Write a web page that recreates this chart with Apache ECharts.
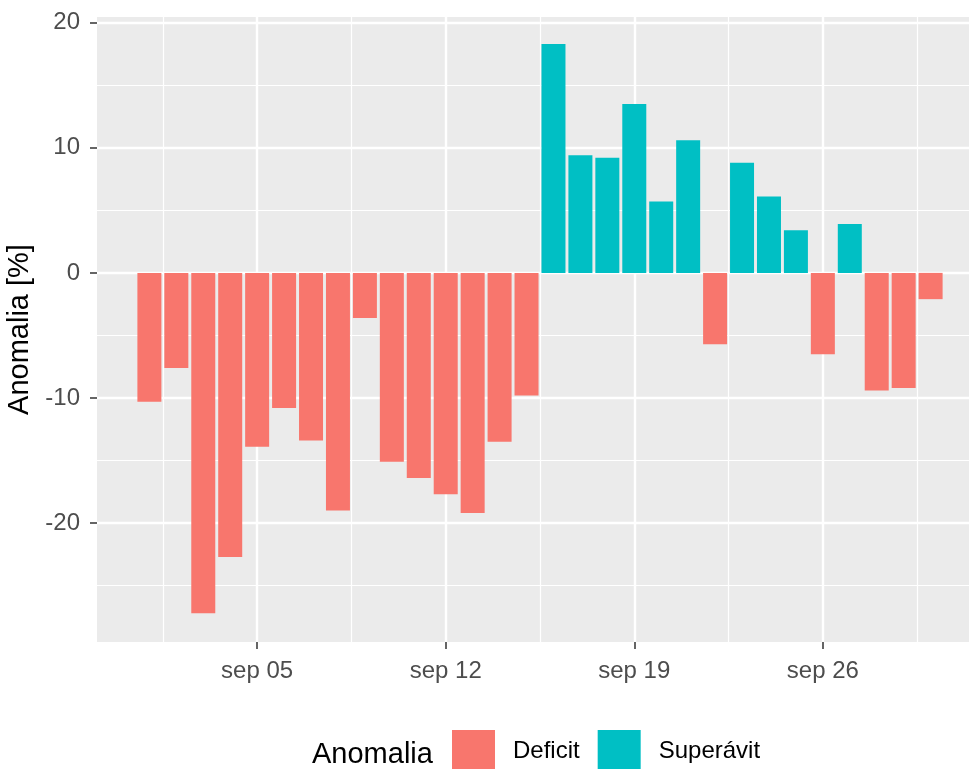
<!DOCTYPE html>
<html>
<head>
<meta charset="utf-8">
<script src="https://cdn.jsdelivr.net/npm/echarts@6/dist/echarts.min.js"></script>
<style>
html,body{margin:0;padding:0;background:#fff;}
#chart{width:969px;height:769px;}
</style>
</head>
<body>
<div id="chart"></div>
<script>
// Day of September
const days = [1,2,3,4,5,6,7,8,9,10,11,12,13,14,15,16,17,18,19,20,21,22,23,24,25,26,27,28,29,30];
// Anomalia [%]
const anomalia = [-10.3,-7.6,-27.2,-22.7,-13.9,-10.8,-13.4,-19.0,-3.6,-15.1,-16.4,-17.7,-19.2,-13.5,-9.8,
                  18.3,9.4,9.2,13.5,5.7,10.6,-5.7,8.8,6.1,3.4,-6.5,3.9,-9.4,-9.2,-2.1];
const seriesNames = ['Deficit','Superávit'];
const seriesColors = ['#F8766D','#00BFC4'];
const xTickDays = [5,12,19,26];
const xTickLabels = ['sep 05','sep 12','sep 19','sep 26'];
const xMinorGrid = [1.5,8.5,15.5,22.5,29.5];
const yTicks = [-20,-10,0,10,20];
const yMinorGrid = [-25,-15,-5,5,15];

const deficitData = [], superavitData = [];
days.forEach((d,i)=>{
  if (anomalia[i] < 0) deficitData.push([d, anomalia[i]]);
  else superavitData.push([d, anomalia[i]]);
});

const gridLines = [];
xTickDays.forEach(v=>gridLines.push({xAxis:v, lineStyle:{width:2.4}}));
xMinorGrid.forEach(v=>gridLines.push({xAxis:v, lineStyle:{width:1.2}}));
yTicks.forEach(v=>gridLines.push({yAxis:v, lineStyle:{width:2.4}}));
yMinorGrid.forEach(v=>gridLines.push({yAxis:v, lineStyle:{width:1.2}}));

const FONT = 'Liberation Sans, Arial, sans-serif';
const chart = echarts.init(document.getElementById('chart'), null, {renderer:'canvas'});
chart.setOption({
  animation:false,
  backgroundColor:'#ffffff',
  textStyle:{fontFamily:FONT},
  grid:{left:97, top:17, width:886, height:625, show:true, backgroundColor:'#EBEBEB', borderWidth:0,
        containLabel:false, outerBoundsMode:'none'},
  xAxis:{
    type:'value', min:-0.945, max:31.945,
    axisLine:{show:true, onZero:false, lineStyle:{color:'rgba(0,0,0,0)'}},
    splitLine:{show:false},
    axisTick:{show:true, customValues:xTickDays, length:7, lineStyle:{color:'#333333', width:1.5}},
    axisLabel:{customValues:xTickDays, margin:17, fontSize:24, color:'#4D4D4D', fontFamily:FONT,
      formatter:(v)=>{const k=xTickDays.indexOf(v); return k>=0?xTickLabels[k]:'';}}
  },
  yAxis:{
    type:'value', min:-29.5, max:20.45,
    name:'Anomalia [%]', nameLocation:'middle', nameGap:57,
    nameTextStyle:{fontSize:29, color:'#000000', fontFamily:FONT},
    axisLine:{show:true, onZero:false, lineStyle:{color:'rgba(0,0,0,0)'}},
    splitLine:{show:false},
    axisTick:{show:true, customValues:yTicks, length:7, lineStyle:{color:'#333333', width:1.5}},
    axisLabel:{customValues:yTicks, margin:17, fontSize:24, color:'#4D4D4D', fontFamily:FONT}
  },
  legend:{
    data:seriesNames, left:452, top:730, orient:'horizontal', padding:0,
    icon:'rect', itemWidth:43, itemHeight:43, itemGap:18,
    textStyle:{fontSize:24, color:'#000000', fontFamily:FONT, padding:[0,0,0,13]}
  },
  graphic:[{
    type:'text', left:312, top:740,
    style:{text:'Anomalia', fontSize:29, fill:'#000000', fontFamily:FONT}
  }],
  series:[
    {type:'line', data:[], silent:true, z:1,
     markLine:{silent:true, z:1, symbol:['none','none'], label:{show:false},
       lineStyle:{color:'#ffffff', type:'solid'}, data:gridLines}},
    {name:seriesNames[0], type:'bar', stack:'a', data:deficitData, barWidth:24, z:3,
     itemStyle:{color:seriesColors[0]}},
    {name:seriesNames[1], type:'bar', stack:'a', data:superavitData, barWidth:24, z:3,
     itemStyle:{color:seriesColors[1]}}
  ]
});
</script>
</body>
</html>
